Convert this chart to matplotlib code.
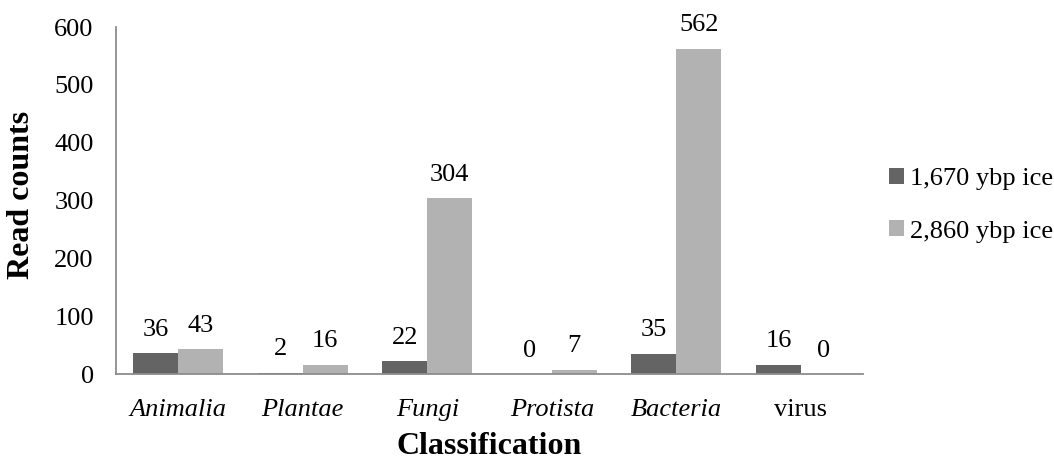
import matplotlib
matplotlib.use("Agg")
import matplotlib.pyplot as plt
import numpy as np

categories = ["Animalia", "Plantae", "Fungi", "Protista", "Bacteria", "virus"]
italic = [True, True, True, True, True, False]
counts_1670 = [36, 2, 22, 0, 35, 16]
counts_2860 = [43, 16, 304, 7, 562, 0]
series_names = ["1,670 ybp ice", "2,860 ybp ice"]

plt.rcParams["font.family"] = ["Liberation Serif", "DejaVu Serif"]
plt.rcParams["font.size"] = 19

fig = plt.figure(figsize=(10.54, 4.61), dpi=100)
ax = fig.add_axes([0.110, 0.1887, 0.709, 0.7527])

x = np.arange(len(categories))
w = 0.361
b1 = ax.bar(x - w / 2, counts_1670, width=w, color="#646464", label=series_names[0])
b2 = ax.bar(x + w / 2, counts_2860, width=w, color="#b2b2b2", label=series_names[1])

# value labels over every bar
for bars, vals in ((b1, counts_1670), (b2, counts_2860)):
    for rect, v in zip(bars, vals):
        ax.annotate(str(v), (rect.get_x() + rect.get_width() / 2, v),
                    xytext=(0, 9), textcoords="offset points",
                    ha="center", va="bottom", fontsize=19)

ax.set_xlim(-0.5, len(categories) - 0.5)
ax.set_ylim(0, 600)
ax.set_yticks(range(0, 601, 100))
ax.set_xticks(x)
ax.set_xticklabels(categories)
for lbl, it in zip(ax.get_xticklabels(), italic):
    lbl.set_style("italic" if it else "normal")
ax.tick_params(axis="both", length=0)
ax.tick_params(axis="y", pad=16)
ax.tick_params(axis="x", pad=18)

for side in ("top", "right"):
    ax.spines[side].set_visible(False)
for side in ("left", "bottom"):
    ax.spines[side].set_color("#8c8c8c")
    ax.spines[side].set_linewidth(1.3)

ax.set_ylabel("Read counts", fontsize=23, fontweight="bold")
ax.yaxis.set_label_coords(-0.107, 0.516)
ax.set_xlabel("Classification", fontsize=23, fontweight="bold", labelpad=8)

fig.legend(handles=[b1, b2], loc="center left", bbox_to_anchor=(0.821, 0.555),
           frameon=False, fontsize=19, handlelength=0.55, handleheight=0.55,
           handletextpad=0.25, labelspacing=1.15)

fig.savefig("out.png", dpi=100)
